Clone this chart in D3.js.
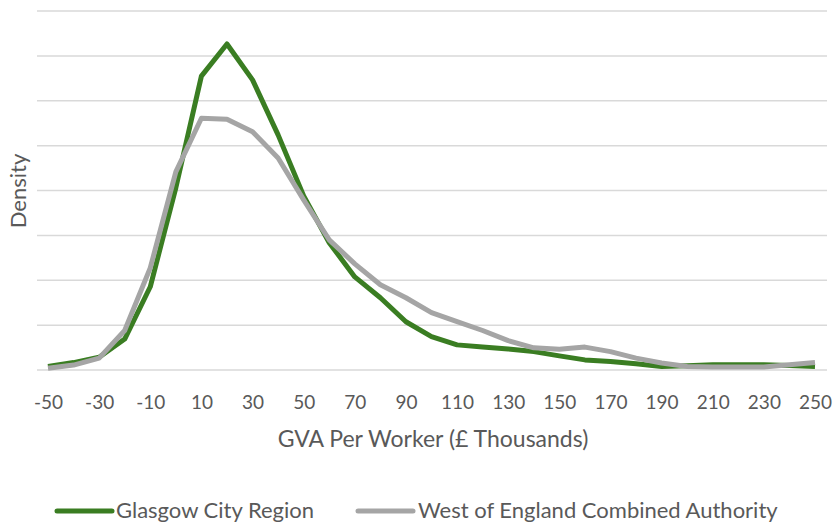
<!DOCTYPE html>
<html>
<head>
<meta charset="utf-8">
<script src="https://cdn.jsdelivr.net/npm/d3@7"></script>
<style>
  html, body { margin: 0; padding: 0; background: #fff; }
  svg { display: block; }
  text { font-family: Lato, "Open Sans", sans-serif; fill: #595959; }
</style>
</head>
<body>
<svg id="chart" width="835" height="526"></svg>
<script>
// GVA per worker bins (£ thousands)
const categories = [-50,-40,-30,-20,-10,0,10,20,30,40,50,60,70,80,90,100,110,120,130,140,150,160,170,180,190,200,210,220,230,240,250];

// Kernel density estimates per region
const glasgow = [0.00016,0.00033,0.00057,0.00138,0.00371,0.00812,0.01310,0.01453,0.01293,0.01048,0.00776,0.00567,0.00415,0.00322,0.00215,0.00149,0.00112,0.00102,0.00094,0.00082,0.00063,0.00045,0.00038,0.00028,0.00016,0.00019,0.00023,0.00023,0.00023,0.00020,0.00016];
const westEngland = [0.00008,0.00022,0.00053,0.00176,0.00455,0.00883,0.01122,0.01118,0.01062,0.00945,0.00758,0.00580,0.00473,0.00380,0.00322,0.00256,0.00216,0.00176,0.00131,0.00099,0.00093,0.00102,0.00082,0.00053,0.00031,0.00016,0.00013,0.00013,0.00013,0.00023,0.00033];

const seriesNames = ["Glasgow City Region", "West of England Combined Authority"];
const seriesColors = ["#3a7d22", "#a5a5a5"];
const yTicks = [0,0.002,0.004,0.006,0.008,0.010,0.012,0.014,0.016];
const xTickLabels = categories.filter((d, i) => i % 2 === 0);

const svg = d3.select("#chart");
const plot = { left: 37, right: 827, top: 11, bottom: 370 };

const x = d3.scalePoint().domain(categories).range([48, 815]);
const y = d3.scaleLinear().domain([0, 0.016]).range([plot.bottom, plot.top]);

// Horizontal gridlines
svg.append("g")
  .selectAll("line")
  .data(yTicks)
  .join("line")
  .attr("x1", plot.left).attr("x2", plot.right)
  .attr("y1", d => y(d)).attr("y2", d => y(d))
  .attr("stroke", "#d9d9d9")
  .attr("stroke-width", 1.5);

// Category axis labels
const xAxis = d3.axisBottom(x).tickValues(xTickLabels).tickSize(0).tickPadding(0);
const gx = svg.append("g").attr("transform", `translate(0,${plot.bottom})`).call(xAxis);
gx.select(".domain").remove();
gx.selectAll("text")
  .attr("dy", null)
  .attr("y", 39)
  .style("font-size", "19px")
  .style("fill", "#595959")
  .style("font-family", "Lato, 'Open Sans', sans-serif");

// Axis titles
svg.append("text")
  .attr("x", 433).attr("y", 447)
  .attr("text-anchor", "middle")
  .style("font-size", "23px")
  .text("GVA Per Worker (£ Thousands)");

svg.append("text")
  .attr("transform", "translate(26,191) rotate(-90)")
  .attr("text-anchor", "middle")
  .style("font-size", "22px")
  .text("Density");

// Density lines
const line = d3.line()
  .x((d, i) => x(categories[i]))
  .y(d => y(d));

[glasgow, westEngland].forEach((vals, k) => {
  svg.append("path")
    .datum(vals)
    .attr("fill", "none")
    .attr("stroke", seriesColors[k])
    .attr("stroke-width", 5)
    .attr("stroke-linejoin", "round")
    .attr("d", line);
});

// Legend
const legendItems = [
  { x: 57, textX: 116 },
  { x: 358, textX: 418 }
];
legendItems.forEach((it, k) => {
  svg.append("line")
    .attr("x1", it.x).attr("x2", it.x + 55)
    .attr("y1", 511).attr("y2", 511)
    .attr("stroke", seriesColors[k])
    .attr("stroke-width", 5)
    .attr("stroke-linecap", "round");
  svg.append("text")
    .attr("x", it.textX).attr("y", 518)
    .style("font-size", "22px")
    .text(seriesNames[k]);
});
</script>
</body>
</html>
